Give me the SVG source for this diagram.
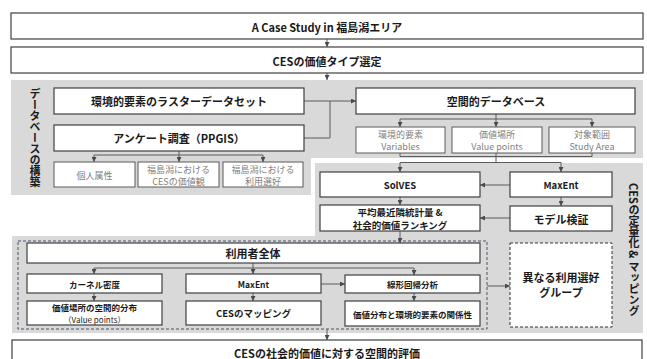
<svg xmlns="http://www.w3.org/2000/svg" width="647" height="359" viewBox="0 0 647 359">
<defs>
<marker id="ah" markerUnits="userSpaceOnUse" markerWidth="5" markerHeight="5" refX="5" refY="2.5" orient="auto">
<path d="M0,0 L5,2.5 L0,5 z" fill="#4a4a4a"/>
</marker>
<style>
text{font-family:"Noto Sans CJK JP","Noto Sans",sans-serif;fill:#1a1a1a;text-anchor:middle;dominant-baseline:central}
.panel{fill:#d9d9d9;stroke:none}
.box{fill:#fff;stroke:#404040;stroke-width:1.2}
.gbox{fill:#fff;stroke:#5a5a5a;stroke-width:1}
.b11{font-size:11px;font-weight:700}
.b10{font-size:9.5px;font-weight:700}
.b9{font-size:8.5px;font-weight:700}
.g{font-size:9px;fill:#7f7f7f}
.r8{font-size:8px}
.vt{font-size:11px;font-weight:700;writing-mode:vertical-rl;text-anchor:start;dominant-baseline:central}
.c{fill:none;stroke:#5a5a5a;stroke-width:1}
.ca{fill:none;stroke:#5a5a5a;stroke-width:1;marker-end:url(#ah)}
</style>
</defs>

<g id="panels">
<polygon class="panel" points="11,80 643,80 643,158 311,158 311,195 11,195"/>
<rect class="panel" x="315" y="163" width="328" height="170"/>
<rect class="panel" x="12" y="236" width="631" height="97"/>
<rect x="18" y="241" width="469" height="88" fill="none" stroke="#44546a" stroke-width="1" stroke-dasharray="3,2"/>
<text class="vt" x="35" y="88">データベースの構築</text>
<text class="vt" x="634" y="183">CESの定量化 &amp; マッピング</text>
</g>

<g id="connectors">
<line class="ca" x1="327" y1="39" x2="327" y2="47"/>
<line class="ca" x1="327" y1="73" x2="327" y2="80"/>
<polyline class="c" points="179,151 179,155"/>
<polyline class="c" points="94,155 263,155"/>
<line class="ca" x1="94" y1="155" x2="94" y2="162"/>
<line class="ca" x1="179" y1="155" x2="179" y2="162"/>
<line class="ca" x1="263" y1="155" x2="263" y2="162"/>
<line class="ca" x1="304" y1="101" x2="356" y2="101"/>
<polyline class="c" points="304,138 330,138 330,101"/>
<polyline class="c" points="496,114 496,119"/>
<polyline class="c" points="400,119 592,119"/>
<line class="ca" x1="400" y1="119" x2="400" y2="127"/>
<line class="ca" x1="496" y1="119" x2="496" y2="127"/>
<line class="ca" x1="592" y1="119" x2="592" y2="127"/>
<polyline class="c" points="400,153 400,156.5 592,156.5 592,153"/>
<polyline class="c" points="496,153 496,162.5"/>
<polyline class="c" points="400,162.5 561,162.5"/>
<line class="ca" x1="400" y1="162.5" x2="400" y2="172"/>
<line class="ca" x1="561" y1="162.5" x2="561" y2="172"/>
<line class="ca" x1="510" y1="185" x2="480" y2="185"/>
<line class="ca" x1="400" y1="197" x2="400" y2="205"/>
<line class="ca" x1="561" y1="197" x2="561" y2="206"/>
<line class="ca" x1="510" y1="218" x2="480" y2="218"/>
<line class="ca" x1="400" y1="231" x2="400" y2="243"/>
<polyline class="c" points="253,263 253,268"/>
<polyline class="c" points="94,268 414,268"/>
<line class="ca" x1="94" y1="268" x2="94" y2="274"/>
<line class="ca" x1="253" y1="268" x2="253" y2="274"/>
<line class="ca" x1="414" y1="268" x2="414" y2="275"/>
<line class="ca" x1="94" y1="293" x2="94" y2="301"/>
<line class="ca" x1="253" y1="293" x2="253" y2="301"/>
<line class="ca" x1="321" y1="284" x2="345" y2="284"/>
<line class="ca" x1="414" y1="293" x2="414" y2="301"/>
<line class="ca" x1="487" y1="286" x2="510" y2="286"/>
<line class="ca" x1="327" y1="329" x2="327" y2="340"/>
</g>

<g id="n-case">
<rect class="box" x="11" y="13" width="632" height="26"/>
<text class="b11" x="327" y="26.5">A Case Study in 福島潟エリア</text>
</g>
<g id="n-type">
<rect class="box" x="11" y="47" width="632" height="26"/>
<text class="b11" x="327" y="60.5">CESの価値タイプ選定</text>
</g>
<g id="n-raster">
<rect class="box" x="54" y="88" width="250" height="26"/>
<text class="b11" x="179" y="101">環境的要素のラスターデータセット</text>
</g>
<g id="n-ppgis">
<rect class="box" x="54" y="125" width="250" height="26"/>
<text class="b11" x="179" y="138">アンケート調査（PPGIS）</text>
</g>
<g id="n-attr">
<rect class="gbox" x="54" y="162" width="81" height="25"/>
<text class="g" x="94.5" y="175">個人属性</text>
</g>
<g id="n-val">
<rect class="gbox" x="138" y="162" width="81" height="25"/>
<text class="g" x="178.5" y="169">福島潟における</text>
<text class="g" x="178.5" y="181.5">CESの価値観</text>
</g>
<g id="n-pref">
<rect class="gbox" x="223" y="162" width="80" height="25"/>
<text class="g" x="263" y="169">福島潟における</text>
<text class="g" x="263" y="181.5">利用選好</text>
</g>
<g id="n-sdb">
<rect class="box" x="356" y="88" width="279" height="26"/>
<text class="b11" x="496" y="101">空間的データベース</text>
</g>
<g id="n-var">
<rect class="gbox" x="356" y="127" width="89" height="26"/>
<text class="g" x="400.5" y="134">環境的要素</text>
<text class="g" x="400.5" y="146.5">Variables</text>
</g>
<g id="n-vp">
<rect class="gbox" x="452" y="127" width="90" height="26"/>
<text class="g" x="497" y="134">価値場所</text>
<text class="g" x="497" y="146.5">Value points</text>
</g>
<g id="n-area">
<rect class="gbox" x="549" y="127" width="86" height="26"/>
<text class="g" x="592" y="134">対象範囲</text>
<text class="g" x="592" y="146.5">Study Area</text>
</g>
<g id="n-solves">
<rect class="box" x="320" y="172" width="160" height="25"/>
<text class="b10" x="400" y="184.5">SolVES</text>
</g>
<g id="n-maxent1">
<rect class="box" x="510" y="172" width="102" height="25"/>
<text class="b10" x="561" y="184.5">MaxEnt</text>
</g>
<g id="n-ann">
<rect class="box" x="320" y="205" width="160" height="26"/>
<text class="b10" x="400" y="212">平均最近隣統計量 &amp;</text>
<text class="b10" x="400" y="225">社会的価値ランキング</text>
</g>
<g id="n-valid">
<rect class="box" x="510" y="206" width="102" height="25"/>
<text class="b11" x="561" y="218.5">モデル検証</text>
</g>
<g id="n-all">
<rect class="box" x="27" y="243" width="453" height="20"/>
<text class="b11" x="253" y="253">利用者全体</text>
</g>
<g id="n-kernel">
<rect class="box" x="27" y="274" width="135" height="19"/>
<text class="b9" x="94.5" y="283.5">カーネル密度</text>
</g>
<g id="n-dist">
<rect class="box" x="27" y="301" width="135" height="24"/>
<text class="b9" x="94.5" y="307">価値場所の空間的分布</text>
<text class="r8" x="94.5" y="319">（Value points）</text>
</g>
<g id="n-maxent2">
<rect class="box" x="186" y="274" width="135" height="19"/>
<text class="b9" x="253.5" y="283.5">MaxEnt</text>
</g>
<g id="n-map">
<rect class="box" x="186" y="301" width="135" height="24"/>
<text class="b10" x="253.5" y="313">CESのマッピング</text>
</g>
<g id="n-reg">
<rect class="box" x="345" y="275" width="135" height="18"/>
<text class="b9" x="412.5" y="284">線形回帰分析</text>
</g>
<g id="n-rel">
<rect class="box" x="345" y="301" width="135" height="25"/>
<text class="b9" x="412.5" y="313.5">価値分布と環境的要素の関係性</text>
</g>
<g id="n-groups">
<rect x="510" y="243" width="102" height="84" fill="#fff" stroke="#333" stroke-width="1" stroke-dasharray="3,2"/>
<text class="b11" x="561" y="276.5">異なる利用選好</text>
<text class="b11" x="561" y="292">グループ</text>
</g>
<g id="n-eval">
<rect class="box" x="12" y="340" width="630" height="30"/>
<text class="b11" x="327" y="352.5">CESの社会的価値に対する空間的評価</text>
</g>
</svg>
